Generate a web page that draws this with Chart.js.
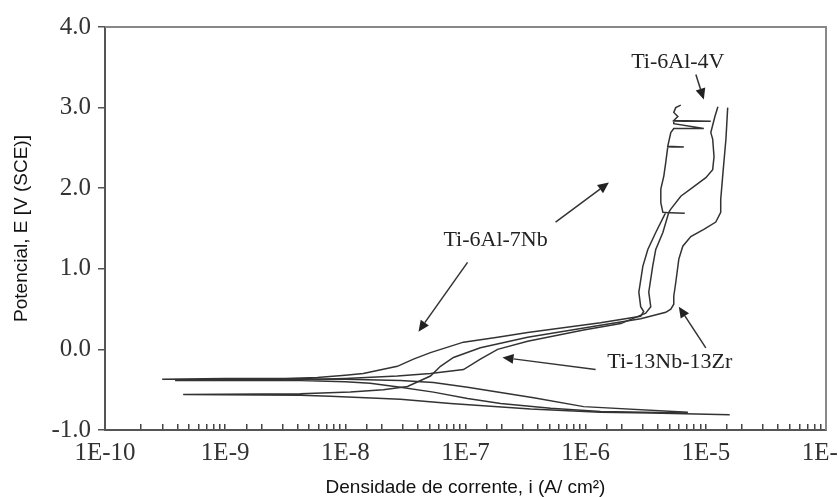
<!DOCTYPE html>
<html>
<head>
<meta charset="utf-8">
<script src="https://cdn.jsdelivr.net/npm/chart.js@4.4.1/dist/chart.umd.min.js"></script>
<style>
  html, body { margin: 0; padding: 0; background: #fff; }
  #wrap { width: 838px; height: 497px; position: relative; }
</style>
</head>
<body>
<div id="wrap"><canvas id="polarizacaoChart"></canvas></div>
<script>
// eixo x (log) e eixo y
var decadas = [1e-10, 1e-9, 1e-8, 1e-7, 1e-6, 1e-5, 1e-4];
var decadasLabels = ['1E-10', '1E-9', '1E-8', '1E-7', '1E-6', '1E-5', '1E-4'];
var potencialTicks = [-1, 0, 1, 2, 3, 4];
var potencialLabels = ['-1.0', '0.0', '1.0', '2.0', '3.0', '4.0'];

// Ti-6Al-7Nb (A/cm2, V)
var correnteTi6Al7Nb = [7.08e-6, 9.62e-7, 3.69e-7, 1.04e-7, 5.41e-8, 2.87e-8, 1.0e-8, 1.0e-9, 2.99e-10,
    1.0e-9, 3.16e-9, 5.85e-9, 1.0e-8, 1.41e-8, 2.71e-8, 3.69e-8, 5.11e-8, 9.62e-8, 1.85e-7, 3.29e-7,
    1.33e-6, 2.87e-6, 3.04e-6, 2.87e-6, 2.77e-6, 2.99e-6, 3.29e-6, 3.83e-6, 4.64e-6, 4.39e-6, 6.68e-6,
    4.39e-6, 4.22e-6, 4.22e-6, 4.47e-6, 4.64e-6, 4.82e-6, 6.56e-6, 4.82e-6, 5.11e-6, 5.41e-6, 9.62e-6,
    5.41e-6, 5.41e-6, 1.10e-5, 5.41e-6, 5.85e-6, 5.41e-6, 5.62e-6, 6.19e-6];
var potencialTi6Al7Nb = [-0.78, -0.71, -0.60, -0.47, -0.41, -0.385, -0.37, -0.37, -0.37,
    -0.36, -0.36, -0.35, -0.32, -0.30, -0.21, -0.12, -0.04, 0.09, 0.15, 0.21,
    0.33, 0.41, 0.47, 0.53, 0.71, 1.03, 1.24, 1.45, 1.70, 1.70, 1.69,
    1.70, 1.82, 1.99, 2.15, 2.32, 2.51, 2.51, 2.52, 2.69, 2.74, 2.74,
    2.80, 2.83, 2.83, 2.84, 2.89, 2.94, 3.00, 3.03];

// Ti-6Al-4V
var correnteTi6Al4V = [7.08e-6, 1.33e-6, 5.11e-7, 1.96e-7, 1.04e-7, 5.41e-8, 2.87e-8, 1.61e-8, 1.0e-8, 4.22e-9,
    3.83e-10, 4.22e-9, 1.0e-8, 2.71e-8, 5.11e-8, 9.62e-8, 1.33e-7, 1.85e-7, 3.29e-7, 9.62e-7,
    1.96e-6, 3.16e-6, 3.48e-6, 3.35e-6, 3.61e-6, 3.83e-6, 4.39e-6, 4.92e-6, 5.11e-6, 6.19e-6,
    7.94e-6, 1.0e-5, 1.14e-5, 1.17e-5, 1.14e-5, 1.10e-5, 1.19e-5, 1.26e-5];
var potencialTi6Al4V = [-0.79, -0.77, -0.73, -0.67, -0.61, -0.53, -0.47, -0.42, -0.40, -0.385,
    -0.385, -0.375, -0.36, -0.33, -0.30, -0.25, -0.12, 0.0, 0.10, 0.24,
    0.32, 0.45, 0.53, 0.71, 1.03, 1.24, 1.45, 1.70, 1.74, 1.90,
    2.02, 2.13, 2.23, 2.39, 2.61, 2.69, 2.89, 3.01];

// Ti-13Nb-13Zr
var correnteTi13Nb13Zr = [1.58e-5, 3.48e-6, 1.33e-6, 3.48e-7, 7.5e-8, 2.87e-8, 7.5e-9, 4.22e-9, 4.47e-10,
    4.22e-9, 1.10e-8, 2.07e-8, 3.29e-8, 5.11e-8, 6.19e-8, 7.94e-8, 1.33e-7, 3.29e-7, 1.33e-6, 2.87e-6,
    4.64e-6, 5.11e-6, 5.41e-6, 5.41e-6, 5.62e-6, 5.96e-6, 6.43e-6, 7.5e-6, 9.62e-6, 1.21e-5,
    1.33e-5, 1.33e-5, 1.39e-5, 1.47e-5, 1.52e-5];
var potencialTi13Nb13Zr = [-0.81, -0.79, -0.78, -0.74, -0.67, -0.62, -0.58, -0.57, -0.56,
    -0.55, -0.53, -0.50, -0.46, -0.33, -0.21, -0.10, 0.02, 0.15, 0.30, 0.38,
    0.46, 0.50, 0.56, 0.66, 0.83, 1.12, 1.28, 1.40, 1.49, 1.58,
    1.70, 1.86, 2.20, 2.61, 3.00];

// textos e setas (em coordenadas dos eixos)
var notas = [
    { texto: 'Ti-6Al-4V', x: 5.85e-6, y: 3.56 },
    { texto: 'Ti-6Al-7Nb', x: 1.78e-7, y: 1.36 },
    { texto: 'Ti-13Nb-13Zr', x: 5.01e-6, y: -0.16 }
];
var setas = [
    { de: [8.26e-6, 3.41], ate: [9.62e-6, 3.10] },
    { de: [5.62e-7, 1.58], ate: [1.56e-6, 2.07] },
    { de: [1.04e-7, 1.08], ate: [4.06e-8, 0.22] },
    { de: [1.0e-5, 0.02], ate: [5.96e-6, 0.53] },
    { de: [1.21e-6, -0.25], ate: [2.03e-7, -0.10] }
];

function pontos(corrente, potencial) {
    var pts = [];
    for (var i = 0; i < corrente.length; i++) {
        pts.push({ x: corrente[i], y: potencial[i] });
    }
    return pts;
}

function curva(nome, corrente, potencial) {
    return {
        label: nome,
        data: pontos(corrente, potencial),
        showLine: true,
        borderColor: '#333',
        borderWidth: 1.5,
        pointRadius: 0,
        fill: false,
        tension: 0
    };
}

var moldura = {
    id: 'moldura',
    afterDraw: function(chart) {
        var a = chart.chartArea, ctx = chart.ctx;
        ctx.save();
        ctx.strokeStyle = '#888';
        ctx.lineWidth = 2;
        ctx.beginPath();
        ctx.moveTo(a.left, a.top);
        ctx.lineTo(a.right, a.top);
        ctx.lineTo(a.right, a.bottom);
        ctx.stroke();
        ctx.restore();
    }
};

var anotacoes = {
    id: 'anotacoes',
    afterDatasetsDraw: function(chart) {
        var xs = chart.scales.x, ys = chart.scales.y, ctx = chart.ctx;
        ctx.save();
        ctx.fillStyle = '#222';
        ctx.font = '22px "Liberation Serif", "Times New Roman", serif';
        ctx.textAlign = 'center';
        ctx.textBaseline = 'middle';
        notas.forEach(function(n) {
            ctx.fillText(n.texto, xs.getPixelForValue(n.x), ys.getPixelForValue(n.y));
        });
        ctx.strokeStyle = '#333';
        ctx.fillStyle = '#222';
        ctx.lineWidth = 1.5;
        setas.forEach(function(s) {
            var x1 = xs.getPixelForValue(s.de[0]), y1 = ys.getPixelForValue(s.de[1]);
            var x2 = xs.getPixelForValue(s.ate[0]), y2 = ys.getPixelForValue(s.ate[1]);
            var ang = Math.atan2(y2 - y1, x2 - x1);
            var bx = x2 - 11 * Math.cos(ang), by = y2 - 11 * Math.sin(ang);
            ctx.beginPath();
            ctx.moveTo(x1, y1);
            ctx.lineTo(bx, by);
            ctx.stroke();
            ctx.beginPath();
            ctx.moveTo(x2, y2);
            ctx.lineTo(bx + 5 * Math.sin(ang), by - 5 * Math.cos(ang));
            ctx.lineTo(bx - 5 * Math.sin(ang), by + 5 * Math.cos(ang));
            ctx.closePath();
            ctx.fill();
        });
        ctx.restore();
    }
};

var ctx = document.getElementById('polarizacaoChart').getContext('2d');
var chart = new Chart(ctx, {
    type: 'scatter',
    data: {
        datasets: [
            curva('Ti-6Al-7Nb', correnteTi6Al7Nb, potencialTi6Al7Nb),
            curva('Ti-6Al-4V', correnteTi6Al4V, potencialTi6Al4V),
            curva('Ti-13Nb-13Zr', correnteTi13Nb13Zr, potencialTi13Nb13Zr)
        ]
    },
    options: {
        responsive: true,
        maintainAspectRatio: false,
        animation: false,
        layout: { padding: { left: 0, right: 12, top: 27, bottom: 0 } },
        plugins: {
            legend: { display: false },
            tooltip: { enabled: false }
        },
        scales: {
            x: {
                type: 'logarithmic',
                position: 'bottom',
                min: 1e-10,
                max: 1e-4,
                border: { display: true, color: '#555', width: 2 },
                grid: { drawOnChartArea: false, drawTicks: true, tickLength: -6, color: '#444', lineWidth: 1.5 },
                ticks: {
                    autoSkip: false,
                    maxRotation: 0,
                    padding: 14,
                    color: '#333',
                    font: { family: '"Liberation Serif", "Times New Roman", serif', size: 25 },
                    callback: function(value) {
                        for (var k = 0; k < decadas.length; k++) {
                            if (Math.abs(value / decadas[k] - 1) < 1e-6) return decadasLabels[k];
                        }
                        return '';
                    }
                },
                title: {
                    display: true,
                    text: 'Densidade de corrente, i (A/ cm²)',
                    color: '#111',
                    font: { family: '"Liberation Sans", Arial, sans-serif', size: 19, lineHeight: 1 },
                    padding: { top: 0, bottom: 0 }
                },
                afterFit: function(s) {
                    s.height = 67;
                    s.paddingLeft = 0;
                    s.paddingRight = 0;
                }
            },
            y: {
                min: -1,
                max: 4,
                border: { display: true, color: '#555', width: 2 },
                grid: { drawOnChartArea: false, drawTicks: true, tickLength: 7, color: '#555', lineWidth: 1.5 },
                ticks: {
                    stepSize: 1,
                    padding: 7,
                    color: '#333',
                    font: { family: '"Liberation Serif", "Times New Roman", serif', size: 25 },
                    callback: function(value) {
                        var k = potencialTicks.indexOf(value);
                        return k >= 0 ? potencialLabels[k] : '';
                    }
                },
                title: {
                    display: true,
                    text: 'Potencial, E [V (SCE)]',
                    color: '#111',
                    font: { family: '"Liberation Sans", Arial, sans-serif', size: 19, lineHeight: 1 },
                    padding: { top: 12, bottom: 0 }
                },
                afterFit: function(s) {
                    s.width = 105;
                }
            }
        }
    },
    plugins: [moldura, anotacoes]
});
</script>
</body>
</html>
